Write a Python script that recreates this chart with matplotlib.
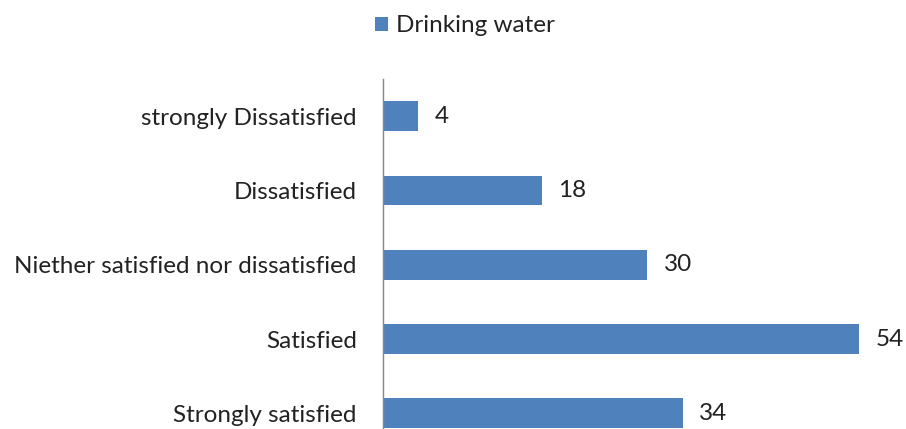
import matplotlib.pyplot as plt

plt.rcParams['font.family'] = ['Lato', 'DejaVu Sans']

categories = ['Strongly satisfied', 'Satisfied', 'Niether satisfied nor dissatisfied',
              'Dissatisfied', 'strongly Dissatisfied']
values = [34, 54, 30, 18, 4]
series_name = 'Drinking water'

fig = plt.figure(figsize=(9.06, 4.29), dpi=100)
ax = fig.add_axes([383 / 906, 1 - 79 / 429 - 371.5 / 429, 528.6 / 906, 371.5 / 429])

bars = ax.barh(range(len(categories)), values, height=0.4, color='#4F81BD', label=series_name)
for i, v in enumerate(values):
    ax.text(v + 1.9, i, str(v), va='center', ha='left', fontsize=17.5, color='#222222')

ax.set_xlim(0, 60)
ax.set_ylim(-0.5, len(categories) - 0.5)
ax.set_yticks(range(len(categories)))
ax.set_yticklabels(categories, fontsize=17.5, color='#222222')
ax.tick_params(axis='y', length=0, pad=19)
ax.set_xticks([])
for s in ['top', 'right', 'bottom']:
    ax.spines[s].set_visible(False)
ax.spines['left'].set_color('#888888')
ax.spines['left'].set_linewidth(1)

fig.legend(handles=[bars], labels=[series_name], loc='center', bbox_to_anchor=(465 / 906, 1 - 26 / 429),
           frameon=False, fontsize=17.5, handlelength=0.55, handleheight=0.55, handletextpad=0.35,
           labelcolor='#222222')

fig.savefig('out.png', dpi=100)
